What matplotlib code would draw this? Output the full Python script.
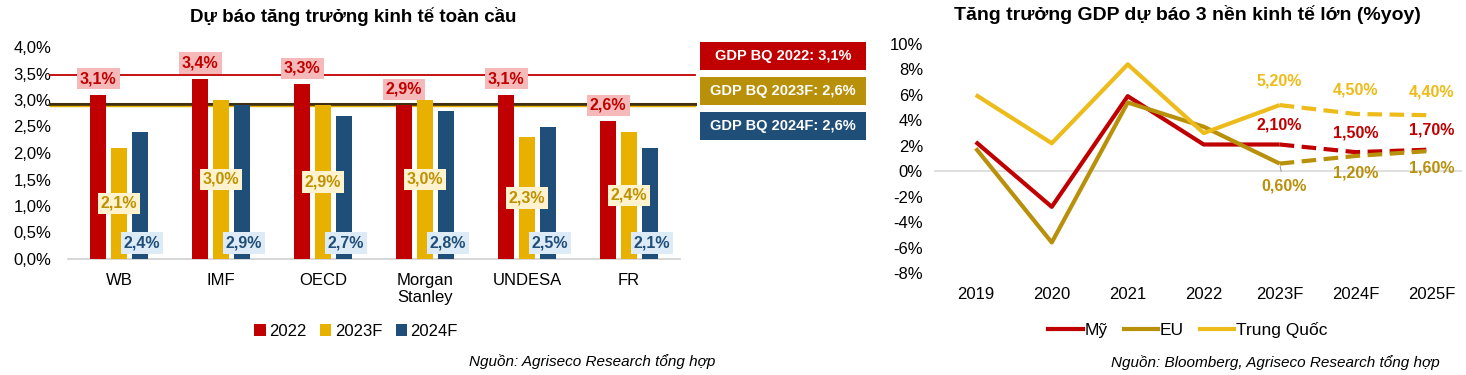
import matplotlib
matplotlib.use("Agg")
import matplotlib.pyplot as plt
from matplotlib.lines import Line2D
from matplotlib.patches import Patch

plt.rcParams['font.family'] = ['Liberation Sans', 'DejaVu Sans']

# ---------------- data: left chart ----------------
orgs = ["WB", "IMF", "OECD", "Morgan\nStanley", "UNDESA", "FR"]
v2022 = [3.1, 3.4, 3.3, 2.9, 3.1, 2.6]
v2023 = [2.1, 3.0, 2.9, 3.0, 2.3, 2.4]
v2024 = [2.4, 2.9, 2.7, 2.8, 2.5, 2.1]
bar_series = ["2022", "2023F", "2024F"]
avg_lines = [3.47, 2.92]
avg_labels = ["GDP BQ 2022: 3,1%", "GDP BQ 2023F: 2,6%", "GDP BQ 2024F: 2,6%"]
left_yticks = [0.0, 0.5, 1.0, 1.5, 2.0, 2.5, 3.0, 3.5, 4.0]

# ---------------- data: right chart ----------------
years = ["2019", "2020", "2021", "2022", "2023F", "2024F", "2025F"]
us = [2.3, -2.8, 5.9, 2.1, 2.1, 1.5, 1.7]
eu = [1.8, -5.6, 5.4, 3.5, 0.6, 1.2, 1.6]
cn = [6.0, 2.2, 8.4, 3.0, 5.2, 4.5, 4.4]
line_names = ["Mỹ", "EU", "Trung Quốc"]
right_yticks = [-8, -6, -4, -2, 0, 2, 4, 6, 8, 10]

RED = "#C00000"
YEL = "#E8B100"
BLUE = "#1F4E79"
GOLD = "#B8900A"
CNY = "#EDBB1A"

def pct1(v):
    return f"{v:.1f}%".replace(".", ",")

def pct2(v):
    return f"{v:.2f}%".replace(".", ",")

W, H = 1466, 375
fig = plt.figure(figsize=(W / 100, H / 100), dpi=100)

# ================= LEFT =================
axL = fig.add_axes([68 / W, 1 - 259 / H, 612 / W, 212 / H])
x = list(range(len(orgs)))
bw = 0.16
off = 0.205
axL.bar([i - off for i in x], v2022, bw, color=RED, zorder=3)
axL.bar(x, v2023, bw, color=YEL, zorder=3)
axL.bar([i + off for i in x], v2024, bw, color=BLUE, zorder=3)
axL.set_xlim(-0.5, len(orgs) - 0.5)
axL.set_ylim(0, 4.0)
axL.set_yticks(left_yticks)
axL.set_yticklabels([pct1(v) for v in left_yticks], fontsize=12)
axL.set_xticks(x)
axL.set_xticklabels(orgs, fontsize=12, linespacing=1.2)
axL.tick_params(length=0)
axL.tick_params(axis='x', pad=10)
axL.tick_params(axis='y', pad=12)
for s in ["top", "right", "left"]:
    axL.spines[s].set_visible(False)
axL.spines["bottom"].set_color("#D0D0D0")
axL.spines["bottom"].set_linewidth(1.2)

# average lines
axL.plot([-0.03, 1.025], [avg_lines[0]] * 2, color=RED, lw=1.3,
         transform=axL.get_yaxis_transform(), clip_on=False, zorder=2)
axL.plot([-0.03, 1.025], [avg_lines[1]] * 2, color="#403010", lw=2.2,
         transform=axL.get_yaxis_transform(), clip_on=False, zorder=2)
axL.plot([-0.03, 1.025], [avg_lines[1] - 0.035] * 2, color=YEL, lw=1.0,
         transform=axL.get_yaxis_transform(), clip_on=False, zorder=2)

# value labels
for i in x:
    axL.text(i - off, v2022[i] + 0.3, pct1(v2022[i]), ha="center", va="center",
             fontsize=11.5, fontweight="bold", color=RED, zorder=5,
             bbox=dict(boxstyle="square,pad=0.2", fc="#F6B9B9", ec="none"))
    axL.text(i, v2023[i] / 2, pct1(v2023[i]), ha="center", va="center",
             fontsize=11.5, fontweight="bold", color="#BF9000", zorder=5,
             bbox=dict(boxstyle="square,pad=0.2", fc="#FFF3CF", ec="none"))
    axL.text(i + off + 0.02, 0.3, pct1(v2024[i]), ha="center", va="center",
             fontsize=11.5, fontweight="bold", color=BLUE, zorder=5,
             bbox=dict(boxstyle="square,pad=0.2", fc="#DDEBF7", ec="none"))

fig.text(353 / W, 1 - 17 / H, "Dự báo tăng trưởng kinh tế toàn cầu",
         ha="center", va="center", fontsize=13.5, fontweight="bold")

# GDP BQ boxes
box_colors = [RED, GOLD, BLUE]
box_y = [42, 77, 112]
for lab, c, yb in zip(avg_labels, box_colors, box_y):
    fig.patches.append(plt.Rectangle((700 / W, 1 - (yb + 28) / H), 166 / W, 28 / H,
                                     transform=fig.transFigure, fc=c, ec="none"))
    fig.text(783 / W, 1 - (yb + 14) / H, lab, ha="center", va="center",
             fontsize=10.5, fontweight="bold", color="white")

handles = [Patch(fc=c, ec="none") for c in [RED, YEL, BLUE]]
fig.legend(handles, bar_series, loc="center", bbox_to_anchor=(356 / W, 1 - 331 / H),
           ncol=3, frameon=False, fontsize=12, handlelength=0.7, handleheight=0.7,
           handletextpad=0.2, columnspacing=0.8)

fig.text(715 / W, 1 - 362 / H, "Nguồn: Agriseco Research tổng hợp",
         ha="right", va="center", fontsize=11, style="italic")

# ================= RIGHT =================
axR = fig.add_axes([934 / W, 1 - 273 / H, 528 / W, 229 / H])
xr = list(range(len(years)))
split = 4
for vals, c in [(us, RED), (eu, GOLD), (cn, CNY)]:
    axR.plot(xr[:split + 1], vals[:split + 1], color=c, lw=3, solid_capstyle="butt", zorder=3)
    axR.plot(xr[split:], vals[split:], color=c, lw=3, ls=(0, (3.5, 1.8)), zorder=3)
axR.set_xlim(-0.55, 6.4)
axR.set_ylim(-8, 10)
axR.set_yticks(right_yticks)
axR.set_yticklabels([f"{v}%" for v in right_yticks], fontsize=12)
axR.set_xticks(xr)
axR.set_xticklabels(years, fontsize=12)
axR.tick_params(length=0)
axR.tick_params(axis='y', pad=8)
axR.tick_params(axis='x', pad=10)
for s in ["top", "right", "left", "bottom"]:
    axR.spines[s].set_visible(False)
axR.axhline(0, color="#D9D9D9", lw=1.2, zorder=1)

# labels for forecasts
for i in range(split, len(years)):
    axR.annotate(pct2(cn[i]), (i, cn[i]), xytext=(0, 17), textcoords="offset points",
                 ha="center", va="center", fontsize=11.5, fontweight="bold", color=CNY)
    axR.annotate(pct2(us[i]), (i, us[i]), xytext=(0, 14), textcoords="offset points",
                 ha="center", va="center", fontsize=11.5, fontweight="bold", color=RED)
axR.annotate(pct2(eu[split]), (split, eu[split]), xytext=(3, -16), textcoords="offset points",
             ha="center", va="center", fontsize=11.5, fontweight="bold", color=GOLD,
             arrowprops=dict(arrowstyle="-", color="#A0A0A0", lw=0.8, shrinkA=3, shrinkB=2))
for i in range(split + 1, len(years)):
    axR.annotate(pct2(eu[i]), (i, eu[i]), xytext=(0, -12), textcoords="offset points",
                 ha="center", va="center", fontsize=11.5, fontweight="bold", color=GOLD)

fig.text(1187 / W, 1 - 14 / H, "Tăng trưởng GDP dự báo 3 nền kinh tế lớn (%yoy)",
         ha="center", va="center", fontsize=14, fontweight="bold")

lh = [Line2D([], [], color=c, lw=3) for c in [RED, GOLD, CNY]]
fig.legend(lh, line_names, loc="center", bbox_to_anchor=(1188 / W, 1 - 330 / H),
           ncol=3, frameon=False, fontsize=12.5, handlelength=2.0, handletextpad=0.1,
           columnspacing=0.9)

fig.text(1440 / W, 1 - 363 / H, "Nguồn: Bloomberg, Agriseco Research tổng hợp",
         ha="right", va="center", fontsize=11, style="italic")

fig.savefig("out.png", dpi=100)
